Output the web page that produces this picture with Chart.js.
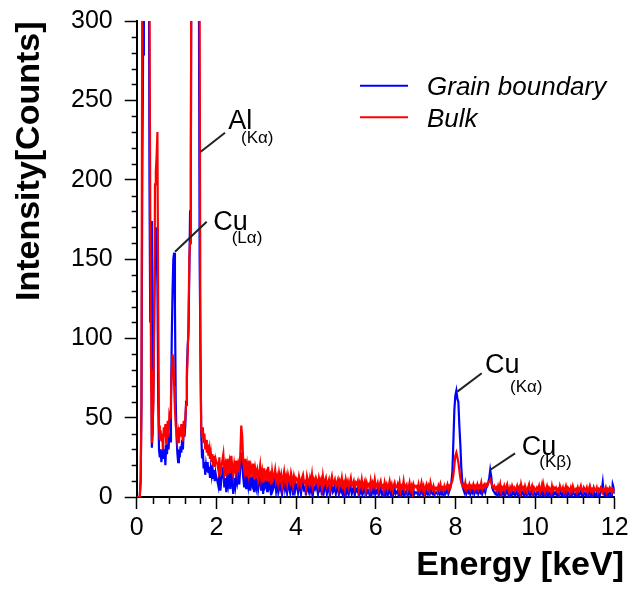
<!DOCTYPE html>
<html>
<head>
<meta charset="utf-8">
<script src="https://cdn.jsdelivr.net/npm/chart.js@4.4.1/dist/chart.umd.min.js"></script>
<style>
html,body{margin:0;padding:0;background:#fff;}
#c{display:block;}
</style>
</head>
<body>
<canvas id="c" width="638" height="590"></canvas>
<script>
// ---------- data ----------
const energyLow = [
0,0.02,0.04,0.06,0.08,0.1,0.12,0.14,0.16,0.18,
0.2,0.22,0.24,0.26,0.28,0.3,0.32,0.34,0.36,0.38,
0.4,0.42,0.44,0.46,0.48,0.5,0.52,0.54,0.56,0.58,
0.6,0.62,0.64,0.66,0.68,0.7,0.72,0.74,0.76,0.78,
0.8,0.82,0.84,0.86,0.88,0.9,0.92,0.94,0.96,0.98,
1,1.02,1.04,1.06,1.08,1.1,1.12,1.14,1.16,1.18,
1.2,1.22,1.24,1.26,1.28,1.3,1.32,1.34,1.36,1.38,
1.4,1.42,1.44,1.46,1.48,1.5,1.52,1.54,1.56,1.58,
1.6,1.62,1.64,1.66,1.68,1.7,1.72,1.74,1.76,1.78,
1.8,1.82,1.84,1.86,1.88,1.9,1.92,1.94,1.96,1.98,
2];
const energyHigh = [
2.025,2.05,2.075,2.1,2.125,2.15,2.175,2.2,2.225,2.25,2.275,2.3,2.325,2.35,2.375,2.4,2.425,2.45,2.475,2.5,
2.525,2.55,2.575,2.6,2.625,2.65,2.675,2.7,2.725,2.75,2.775,2.8,2.825,2.85,2.875,2.9,2.925,2.95,2.975,3,
3.025,3.05,3.075,3.1,3.125,3.15,3.175,3.2,3.225,3.25,3.275,3.3,3.325,3.35,3.375,3.4,3.425,3.45,3.475,3.5,
3.525,3.55,3.575,3.6,3.625,3.65,3.675,3.7,3.725,3.75,3.775,3.8,3.825,3.85,3.875,3.9,3.925,3.95,3.975,4,
4.025,4.05,4.075,4.1,4.125,4.15,4.175,4.2,4.225,4.25,4.275,4.3,4.325,4.35,4.375,4.4,4.425,4.45,4.475,4.5,
4.525,4.55,4.575,4.6,4.625,4.65,4.675,4.7,4.725,4.75,4.775,4.8,4.825,4.85,4.875,4.9,4.925,4.95,4.975,5,
5.025,5.05,5.075,5.1,5.125,5.15,5.175,5.2,5.225,5.25,5.275,5.3,5.325,5.35,5.375,5.4,5.425,5.45,5.475,5.5,
5.525,5.55,5.575,5.6,5.625,5.65,5.675,5.7,5.725,5.75,5.775,5.8,5.825,5.85,5.875,5.9,5.925,5.95,5.975,6,
6.025,6.05,6.075,6.1,6.125,6.15,6.175,6.2,6.225,6.25,6.275,6.3,6.325,6.35,6.375,6.4,6.425,6.45,6.475,6.5,
6.525,6.55,6.575,6.6,6.625,6.65,6.675,6.7,6.725,6.75,6.775,6.8,6.825,6.85,6.875,6.9,6.925,6.95,6.975,7,
7.025,7.05,7.075,7.1,7.125,7.15,7.175,7.2,7.225,7.25,7.275,7.3,7.325,7.35,7.375,7.4,7.425,7.45,7.475,7.5,
7.525,7.55,7.575,7.6,7.625,7.65,7.675,7.7,7.725,7.75,7.775,7.8,7.825,7.85,7.875,7.9,7.925,7.95,7.975,8,
8.025,8.05,8.075,8.1,8.125,8.15,8.175,8.2,8.225,8.25,8.275,8.3,8.325,8.35,8.375,8.4,8.425,8.45,8.475,8.5,
8.525,8.55,8.575,8.6,8.625,8.65,8.675,8.7,8.725,8.75,8.775,8.8,8.825,8.85,8.875,8.9,8.925,8.95,8.975,9,
9.025,9.05,9.075,9.1,9.125,9.15,9.175,9.2,9.225,9.25,9.275,9.3,9.325,9.35,9.375,9.4,9.425,9.45,9.475,9.5,
9.525,9.55,9.575,9.6,9.625,9.65,9.675,9.7,9.725,9.75,9.775,9.8,9.825,9.85,9.875,9.9,9.925,9.95,9.975,10,
10.025,10.05,10.075,10.1,10.125,10.15,10.175,10.2,10.225,10.25,10.275,10.3,10.325,10.35,10.375,10.4,10.425,10.45,10.475,10.5,
10.525,10.55,10.575,10.6,10.625,10.65,10.675,10.7,10.725,10.75,10.775,10.8,10.825,10.85,10.875,10.9,10.925,10.95,10.975,11,
11.025,11.05,11.075,11.1,11.125,11.15,11.175,11.2,11.225,11.25,11.275,11.3,11.325,11.35,11.375,11.4,11.425,11.45,11.475,11.5,
11.525,11.55,11.575,11.6,11.625,11.65,11.675,11.7,11.725,11.75,11.775,11.8,11.825,11.85,11.875,11.9,11.925,11.95,11.975,12];

// Grain boundary (blue)
const grainLow = [
0,0,0,0,2,10,60,200,279,380,
400,410,390,370,400,420,201,110,174,31,
40,70,120,150,170,160,134,60,30,25,
30,22,28,35,24,30,20,33,27,36,
30,40,35,55,100,130,150,154,120,60,
38,28,22,30,25,32,28,36,30,42,
38,45,60,80,95,103,140,180,217,420,
500,600,700,750,760,720,620,480,330,150,
92,40,25,30,18,22,14,20,16,22,
15,19,12,18,14,20,12,17,10,15,
12];
const grainHigh = [
10,7,16,4,11,14,19,6,12,3,15,8,13,5,17,9,2,12,7,14,
9,13,8,18,28,22,12,6,15,5,12,7,14,4,11,8,13,3,10,6,
12,5,10,14,4,11,2,13,7,9,3,14,6,8,1,11,5,7,12,4,
9,4,11,6,10,2,7,12,5,8,3,10,6,3,11,7,1,9,4,8,
7,3,9,6,2,8,10,4,7,1,9,5,3,8,4,10,2,6,5,8,
6,2,8,5,7,1,9,3,6,8,2,5,7,1,6,9,3,4,7,2,
5,7,2,6,4,8,2,5,1,7,3,6,2,5,8,2,4,6,1,5,
4,6,1,5,3,7,2,4,6,0,5,3,4,1,6,2,5,3,8,2,
3,5,1,4,6,2,3,0,5,2,4,1,3,6,2,4,0,3,5,2,
3,4,1,5,0,3,2,6,1,3,4,1,2,5,1,3,0,4,2,3,
3,2,4,1,3,5,2,3,0,2,4,2,3,1,5,3,2,3,1,3,
3,2,4,2,5,2,3,1,4,2,3,5,2,4,6,9,16,35,55,64,
67,62,60,45,33,18,9,5,3,6,2,4,3,6,2,5,3,5,2,4,
3,5,2,4,3,6,2,4,5,3,6,7,9,12,17,13,6,4,3,2,
3,1,4,2,5,0,3,2,4,1,3,5,2,0,3,1,4,2,3,1,
2,4,1,3,0,5,2,3,1,4,2,0,3,5,1,2,4,0,3,2,
1,3,2,4,0,2,5,1,3,0,2,4,1,3,2,0,4,1,3,2,
3,1,2,0,4,2,1,3,0,2,4,1,3,2,0,3,1,4,2,1,
2,0,3,1,2,4,1,0,3,2,1,3,0,2,5,1,2,0,3,1,
1,3,0,2,1,3,4,9,2,1,3,0,2,1,3,2,0,8,6,2];

// Bulk (red)
const bulkLow = [
0,0,0,0,1,12,60,340,520,600,
640,660,640,600,520,460,330,180,80,34,
45,60,110,197,205,215,230,120,45,36,
42,35,40,30,44,38,46,34,42,48,
38,52,50,62,80,90,86,70,55,45,
42,36,40,34,44,38,46,40,35,48,
44,50,58,75,90,110,150,160,200,480,
700,900,1000,1100,1150,1100,950,750,500,310,
92,43,38,44,34,40,30,36,28,33,
26,30,24,28,22,27,20,26,19,24,
22];
const bulkHigh = [
21,17,25,14,19,23,27,16,20,13,24,18,22,15,26,19,14,21,17,23,
16,21,18,26,45,38,22,17,24,13,20,15,23,12,19,16,21,11,18,14,
17,11,15,20,12,16,9,18,13,15,10,19,12,14,8,16,11,13,17,10,
13,9,15,11,14,7,12,16,10,13,8,14,11,9,15,12,7,13,10,12,
11,8,13,10,7,12,14,9,11,6,13,10,8,12,9,14,7,11,9,12,
10,7,12,9,11,6,13,8,10,12,7,9,11,5,10,13,8,9,11,7,
9,11,6,10,8,12,7,9,5,11,8,10,6,9,12,7,8,10,6,9,
8,10,5,9,7,11,6,8,10,4,9,7,8,5,10,6,9,7,11,6,
7,9,5,8,10,6,7,4,9,6,8,5,7,10,6,8,4,7,9,6,
6,8,5,9,4,7,6,10,5,7,8,4,6,9,5,7,3,8,6,7,
7,5,8,4,6,9,5,7,3,6,8,5,7,4,9,6,5,7,4,6,
6,4,7,5,8,5,6,4,7,5,6,8,5,7,6,9,10,14,20,26,
28,25,22,17,12,9,7,8,6,9,5,7,6,8,5,7,6,8,5,7,
6,8,5,7,6,9,5,7,8,6,8,7,9,10,11,9,7,6,7,5,
6,4,7,5,8,3,6,5,7,4,6,8,5,3,6,4,7,5,6,4,
5,7,4,6,3,8,5,6,4,7,5,3,6,8,4,5,7,3,6,5,
4,6,5,7,3,5,8,4,6,3,5,7,4,6,5,3,7,4,6,5,
6,4,5,3,7,5,4,6,3,5,7,4,6,5,3,6,4,7,5,4,
5,3,6,4,5,7,4,3,6,5,4,6,3,5,7,4,5,3,6,4,
4,6,3,5,4,6,5,3,5,4,6,3,5,4,6,5,3,5,4,5];

const energy = energyLow.concat(energyHigh);
const grainBoundary = grainLow.concat(grainHigh);
const bulk = bulkLow.concat(bulkHigh);

const seriesNames = ['Grain boundary', 'Bulk'];
const xTickLabels = [0, 2, 4, 6, 8, 10, 12];
const yTickLabels = [0, 50, 100, 150, 200, 250, 300];
const xMinorStep = 0.4;
const yMinorStep = 10;
const xAxisTitle = 'Energy [keV]';
const yAxisTitle = 'Intensity[Counts]';

// peak annotations: text and anchor points in data units (keV, counts)
const peakNotes = [
  {main: 'Al', sub: '(K\u03b1)', tip: [1.607, 217.6], end: [2.217, 229.6], mainAt: [2.30, 232.0], subAt: [2.618, 222.9]},
  {main: 'Cu', sub: '(L\u03b1)', tip: [0.962, 154.6], end: [1.757, 173.5], mainAt: [1.923, 168.3], subAt: [2.385, 159.9]},
  {main: 'Cu', sub: '(K\u03b1)', tip: [8.049, 66.4], end: [8.661, 78.0], mainAt: [8.744, 78.0], subAt: [9.372, 66.4]},
  {main: 'Cu', sub: '(K\u03b2)', tip: [8.870, 17.0], end: [9.498, 27.5], mainAt: [9.666, 26.5], subAt: [10.107, 18.7]}
];

// ---------- chart ----------
const FONT = '"Liberation Sans", Arial, Helvetica, sans-serif';

const decor = {
  id: 'decor',
  afterDraw(chart) {
    const {ctx, chartArea: a, scales: {x, y}} = chart;
    ctx.save();
    // minor ticks
    ctx.strokeStyle = '#000';
    ctx.lineWidth = 1.5;
    ctx.beginPath();
    for (let i = 1; i < 30; i++) {
      if (i % 5 === 0) continue;
      const px = Math.round(x.getPixelForValue(i * xMinorStep)) + 0.5;
      ctx.moveTo(px, a.bottom);
      ctx.lineTo(px, a.bottom + 7);
    }
    for (let i = 1; i < 30; i++) {
      if (i % 5 === 0) continue;
      const py = Math.round(y.getPixelForValue(i * yMinorStep)) + 0.5;
      ctx.moveTo(a.left - 5, py);
      ctx.lineTo(a.left, py);
    }
    ctx.stroke();

    // peak labels
    peakNotes.forEach(n => {
      ctx.strokeStyle = '#222';
      ctx.lineWidth = 2;
      ctx.beginPath();
      ctx.moveTo(x.getPixelForValue(n.tip[0]), y.getPixelForValue(n.tip[1]));
      ctx.lineTo(x.getPixelForValue(n.end[0]), y.getPixelForValue(n.end[1]));
      ctx.stroke();
      ctx.fillStyle = '#000';
      ctx.textAlign = 'left';
      ctx.textBaseline = 'alphabetic';
      ctx.font = '27px ' + FONT;
      ctx.fillText(n.main, x.getPixelForValue(n.mainAt[0]), y.getPixelForValue(n.mainAt[1]));
      ctx.font = '17px ' + FONT;
      ctx.fillText(n.sub, x.getPixelForValue(n.subAt[0]), y.getPixelForValue(n.subAt[1]));
    });

    // legend (from the datasets)
    chart.data.datasets.forEach((ds, i) => {
      const ly = 85.7 + i * 31.6;
      ctx.strokeStyle = ds.borderColor;
      ctx.lineWidth = 2;
      ctx.beginPath();
      ctx.moveTo(360, ly);
      ctx.lineTo(408, ly);
      ctx.stroke();
      ctx.fillStyle = '#000';
      ctx.font = 'italic 26px ' + FONT;
      ctx.textAlign = 'left';
      ctx.textBaseline = 'alphabetic';
      ctx.fillText(ds.label, 427, ly + 9.3);
    });

    // axis titles
    ctx.fillStyle = '#000';
    ctx.font = 'bold 34px ' + FONT;
    ctx.textAlign = 'right';
    ctx.textBaseline = 'alphabetic';
    ctx.fillText(xAxisTitle, 624, 575);
    ctx.translate(39.3, 301);
    ctx.rotate(-Math.PI / 2);
    ctx.textAlign = 'left';
    ctx.fillText(yAxisTitle, 0, 0);
    ctx.restore();
  }
};

new Chart(document.getElementById('c'), {
  type: 'line',
  data: {
    datasets: [
      {label: seriesNames[0], data: energy.map((e, i) => ({x: e, y: grainBoundary[i]})),
       borderColor: '#0000ff', borderWidth: 2.2, pointRadius: 0, tension: 0, fill: false, order: 2},
      {label: seriesNames[1], data: energy.map((e, i) => ({x: e, y: bulk[i]})),
       borderColor: '#ff0000', borderWidth: 2.2, pointRadius: 0, tension: 0, fill: false, order: 1}
    ]
  },
  options: {
    responsive: false,
    animation: false,
    devicePixelRatio: 1,
    layout: {padding: {top: 21, right: 23.3, bottom: 0, left: 0}},
    plugins: {legend: {display: false}, tooltip: {enabled: false}, title: {display: false}},
    scales: {
      x: {
        type: 'linear', min: 0, max: 12,
        afterBuildTicks: s => { s.ticks = xTickLabels.map(v => ({value: v})); },
        afterFit: s => { s.height = 93; s.paddingLeft = 0; s.paddingRight = 0; },
        grid: {drawOnChartArea: false, drawTicks: true, tickLength: 12, tickWidth: 1.5, tickColor: '#000'},
        border: {display: true, color: '#000', width: 2},
        ticks: {color: '#000', font: {family: FONT, size: 25}, padding: 4, maxRotation: 0, autoSkip: false}
      },
      y: {
        type: 'linear', min: 0, max: 300,
        afterBuildTicks: s => { s.ticks = yTickLabels.map(v => ({value: v})); },
        afterFit: s => { s.width = 136.7; s.paddingTop = 0; s.paddingBottom = 0; },
        grid: {drawOnChartArea: false, drawTicks: true, tickLength: 12, tickWidth: 1.5, tickColor: '#000'},
        border: {display: true, color: '#000', width: 2},
        ticks: {color: '#000', font: {family: FONT, size: 25}, padding: 12, autoSkip: false}
      }
    }
  },
  plugins: [decor]
});
</script>
</body>
</html>
